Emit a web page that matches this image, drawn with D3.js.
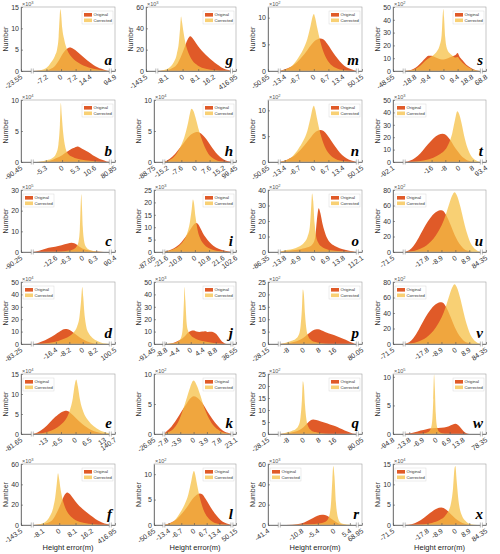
<!DOCTYPE html>
<html><head><meta charset="utf-8">
<script src="https://cdn.jsdelivr.net/npm/d3@7"></script>
<style>body{margin:0;background:#fff}</style>
</head><body>
<svg id="c" width="500" height="554"></svg>
<script>
// ---------------- DATA ----------------
const panelLetters = ["a","g","m","s","b","h","n","t","c","i","o","u","d","j","p","v","e","k","q","w","f","l","r","x"];
const yExponents = [3,3,2,2, 4,4,2,3, 5,3,2,2, 4,3,2,2, 4,2,2,5, 3,2,3,4];
const yTickValues = [
  [0,5,10,15],[0,20,40,60],[0,5,10],[0,10,20,30,40,50],
  [0,5,10],[0,5,10],[0,5,10],[0,10,20,30,40,50],
  [0,10,20,30],[0,5,10,15,20,25],[0,10,20,30,40],[0,20,40,60,80],
  [0,10,20,30,40,50],[0,10,20,30,40,50],[0,5,10,15,20,25],[0,20,40,60,80],
  [0,5,10,15],[0,5,10],[0,5,10,15,20,25],[0,5,10],
  [0,20,40,60],[0,5,10],[0,20,40,60],[0,5,10,15]
];
const yMaxValues = [15,60,12,50, 10,10,12,50, 30,25,40,80, 50,50,25,80, 15,10,25,10.5, 60,12,60,15];
const xEdgeLabels = [
  [-23.55,94.9],[-143.5,416.95],[-50.65,50.15],[-48.55,68.8],
  [-90.45,80.85],[-88.75,99.45],[-50.65,50.15],[-92.1,93.4],
  [-90.25,90.4],[-87.05,102.6],[-86.35,112.1],[-71.5,84.35],
  [-83.25,100.5],[-91.45,36.55],[-28.15,80.05],[-71.5,84.35],
  [-81.65,140.7],[-26.95,23.1],[-28.15,80.05],[-94.8,78.35],
  [-143.5,416.95],[-50.65,50.15],[-41.4,68.95],[-71.5,84.35]
];
const xTickValues = [
  [-7.2,0,7.2,14.4],[-8.1,0,8.1,16.2],[-13.4,-6.7,0,6.7,13.4],[-18.8,-9.4,0,9.4,18.8],
  [-5.3,0,5.3,10.6],[-15.2,-7.6,0,7.6,15.2],[-13.4,-6.7,0,6.7,13.4],[-16,-8,0,8],
  [-12.6,-6.3,0,6.3],[-21.6,-10.8,0,10.8,21.6],[-13.8,-6.9,0,6.9,13.8],[-17.8,-8.9,0,8.9],
  [-16.4,-8.2,0,8.2],[-8.8,-4.4,0,4.4,8.8],[-8,0,8,16],[-17.8,-8.9,0,8.9],
  [-13,-6.5,0,6.5,13],[-7.8,-3.9,0,3.9,7.8],[-8,0,8,16],[-13.8,-6.9,0,6.9,13.8],
  [-8.1,0,8.1,16.2],[-13.4,-6.7,0,6.7,13.4],[-10.8,-5.4,0,5.4],[-17.8,-8.9,0,8.9]
];
const xInnerDomains = [
  [-14.2,24.3],[-13.4,25.4],[-15.9,20],[-26,25.1],
  [-9.7,15.7],[-17,19.6],[-15.9,20],[-32,13],
  [-23.7,12.9],[-23.7,28.2],[-16.3,20.3],[-32.7,16.6],
  [-30.8,16.8],[-9.5,14.5],[-12.3,27.4],[-32.7,16.6],
  [-19.3,15.5],[-8.7,11.2],[-12.3,27.4],[-16.4,23.1],
  [-13.4,25.4],[-15.9,20],[-18.4,7.9],[-32.7,16.6]
];
const legendSides = ["R","R","R","R","R","R","R","L","L","R","R","L","L","R","R","L","L","R","R","R","R","R","L","L"];

const originalSeries = [
  // a
  [[-14,0],[-8,0.1],[-5,0.5],[-3,1.2],[-1,2.5],[0.5,3.8],[2,4.8],[3.5,5.4],[4.5,5.5],[6,5.2],[8,4.5],[10,3.7],[12,2.9],[14,2.1],[16,1.4],[18,0.9],[20,0.5],[22,0.2],[24,0]],
  // g
  [[-13,0],[-9,0.5],[-6,2],[-3,6],[-1,13],[1,22],[2.5,29],[4,32.5],[5.5,30],[7,26],[9,21],[11,17],[13,13.5],[15.5,9.5],[18,6],[20,3.6],[22.5,1.5],[25,0.3],[25.4,0]],
  // m
  [[-16,0],[-12,0.5],[-9,1.2],[-6,2.4],[-3,3.9],[-1,5],[1,5.8],[3,6.1],[4.5,5.9],[6,5.2],[8,4],[10,2.8],[12,1.8],[14,1],[16,0.5],[18.5,0.15],[20,0]],
  // s
  [[-26,0],[-23,0.3],[-20,1.5],[-17,4],[-14,7.5],[-12,10],[-10,12],[-8,12],[-5,10.5],[-2,9.2],[0,9],[2,9.5],[4,10.5],[6,11.5],[8,12.5],[9.4,14],[10.5,11.5],[12.5,8.5],[15,5],[18,2.5],[21,0.8],[23,0.2],[25,0]],
  // b
  [[-9.7,0],[-6,0.05],[-4,0.2],[-2,0.6],[0,1.1],[1.5,1.6],[3,2.1],[4,2.3],[5,2.5],[6,2.3],[7,2],[8.5,1.6],[10,1.1],[11.5,0.7],[13,0.35],[14.5,0.1],[15.7,0]],
  // h
  [[-17,0],[-14,0.5],[-11,1.3],[-8,2.4],[-5,3.6],[-2,4.5],[0,4.8],[1,4.85],[3,4.6],[5,4],[7,3.2],[9,2.3],[11,1.5],[13,0.9],[15,0.45],[17,0.15],[19.6,0]],
  // n
  [[-16,0],[-12,0.5],[-9,1.2],[-6,2.4],[-3,3.9],[-1,5],[1,5.9],[3,6.2],[4.5,6],[6,5.3],[8,4.1],[10,2.9],[12,1.8],[14,1],[16,0.5],[18.5,0.15],[20,0]],
  // t
  [[-32,0],[-30,0.5],[-27,2],[-24,5],[-21,9.5],[-18,14.5],[-15,19],[-12,22],[-9.5,22.8],[-7,21],[-5,17.5],[-3,13],[-1,9],[1,5.5],[3,3],[5,1.3],[8,0.3],[11,0]],
  // c
  [[-23.7,0],[-22,0.3],[-19,1.1],[-16,2],[-13,2.6],[-10,3.3],[-7,4.1],[-5.2,4.5],[-4,4.2],[-2.5,3.3],[-1,2.2],[0.5,1.4],[2.5,0.8],[5,0.4],[8,0.1],[11,0]],
  // i
  [[-23.7,0],[-20,0.6],[-16,1.5],[-12,3],[-9,4.8],[-6,7],[-3,9.5],[-1,11],[1,11.7],[2.5,11.2],[4,9.8],[6,7.7],[8,6],[11,4],[14,2.5],[18,1.3],[22,0.6],[26,0.2],[28.2,0]],
  // o
  [[-16.3,0],[-14,0.6],[-10,1.2],[-6,2],[-3,3],[-1,4.5],[0.5,9],[1.3,20],[2.2,28.3],[3,25],[4,18],[5.5,11],[7,7],[9,4.5],[12,2.5],[15,1.3],[18,0.5],[20.3,0]],
  // u
  [[-32.7,0],[-31,1],[-28,5],[-25,13],[-22,24],[-19,35],[-16,44],[-13,50.5],[-10.5,53.5],[-9,54],[-7.5,52.5],[-5.5,46],[-3.5,37],[-1.5,27],[0.5,18],[2.5,11],[5,5],[8,1.5],[11,0]],
  // d
  [[-30.8,0],[-28,0.5],[-25,2],[-21,4.5],[-17,7.5],[-14,10],[-11.5,11.8],[-10,12],[-8,11.2],[-6,9.5],[-4,7.5],[-2,5.5],[0,3.8],[2,2.5],[4.5,1.3],[7,0.5],[10,0]],
  // j
  [[-9.5,0],[-7,0.5],[-5.5,1.5],[-4,3],[-3,4.5],[-2,6.5],[-1,9],[0,10.5],[1,10.8],[2,10],[3,9.6],[4,10],[5,10.3],[6,9.7],[7,9.9],[8,9.5],[9,8],[10,5],[11,2],[12,0.5],[12.6,0]],
  // p
  [[-12.3,0],[-8,0.3],[-5,0.8],[-2,1.6],[0,2.5],[2,3.8],[4,5],[6,5.8],[7.5,5.9],[9,5.5],[11,4.8],[13,4.2],[15.5,3.6],[18,2.8],[20.5,2],[22.5,1.3],[24.5,0.6],[26,0.15],[27.4,0]],
  // v
  [[-32.7,0],[-31,1],[-28,5],[-25,13],[-22,24],[-19,35],[-16,44],[-13,50.5],[-10.5,53.5],[-9,54],[-7.5,52.5],[-5.5,46],[-3.5,37],[-1.5,27],[0.5,18],[2.5,11],[5,5],[8,1.5],[11,0]],
  // e
  [[-19.3,0],[-17,0.4],[-14,1.5],[-11.5,2.9],[-9,4.3],[-6.5,5.4],[-4,5.8],[-2.5,5.4],[-1,4.6],[1,3.5],[3,2.5],[5,1.7],[7,1],[9.5,0.5],[12,0.15],[14,0]],
  // k
  [[-8.7,0],[-7.8,0.5],[-6.5,1.2],[-5,2.4],[-3.5,3.8],[-2,5.1],[-1,5.9],[0,6.3],[1,6.1],[2.5,5.2],[4,3.8],[5.5,2.5],[7,1.4],[8.5,0.6],[10,0.2],[11.2,0]],
  // q
  [[-12.3,0],[-8,0.3],[-5,0.8],[-2,1.7],[0,2.8],[2,4.5],[3.5,5.6],[5,6],[6.5,5.8],[8.5,5.3],[11,4.7],[13.5,4],[16,3.3],[18.5,2.4],[21,1.5],[23,0.8],[25,0.25],[27,0]],
  // w
  [[-16.4,0],[-14,0.1],[-11,0.3],[-8,0.6],[-5,0.85],[-2,1],[1,1.05],[4,1.15],[6.5,1.35],[8.5,1.65],[9.8,1.78],[11,1.6],[12.5,1.1],[14,0.5],[15.5,0.15],[17,0]],
  // f
  [[-13,0],[-9,0.5],[-6,2],[-3,6],[-1,13],[1,22],[2.5,29],[4,32],[5.5,30],[7,26],[9,21],[11,17],[13,13.5],[15.5,9.5],[18,6],[20,3.6],[22.5,1.5],[25,0.3],[25.4,0]],
  // l
  [[-16,0],[-12,0.5],[-9,1.2],[-6,2.4],[-3,3.9],[-1,5],[1,5.8],[3,6.2],[4.5,6],[6,5.2],[8,4],[10,2.8],[12,1.8],[14,1],[16,0.5],[18.5,0.15],[20,0]],
  // r
  [[-18.4,0],[-14,0.3],[-11,1.5],[-9,4],[-7,7],[-5.5,9],[-4,10],[-3,9.8],[-2,8.5],[-1,6.5],[0,4.5],[1,2.5],[2,1],[3.5,0.3],[5,0]],
  // x
  [[-32,0],[-28,0.2],[-24,0.8],[-20,1.8],[-16,3],[-12,4],[-9,4.3],[-6,3.8],[-3,2.7],[0,1.6],[3,0.8],[6,0.3],[10,0]]
];

const correctedSeries = [
  // a
  [[-14,0],[-10,0.2],[-7,0.8],[-5,2],[-3,3.6],[-2,5],[-1.2,8],[-0.7,12.5],[-0.4,14.5],[0,13.5],[0.6,10],[1.5,7.5],[3,5],[5,3.4],[8,2.1],[12,1.1],[16,0.5],[20,0.15],[24,0]],
  // g
  [[-13,0],[-10,0.8],[-7,3],[-5,7],[-3,16],[-2,26],[-1.3,40],[-0.8,51],[-0.3,46],[0.5,36],[1.5,26],[3,17],[5,10],[8,5],[12,2.2],[17,0.8],[22,0.2],[25,0]],
  // m
  [[-16,0],[-13,0.3],[-10,1],[-7,2.6],[-5,4],[-3,6],[-1.5,8.5],[-0.5,10.3],[0,10.7],[0.6,10],[1.5,8.2],[3,5.5],[5,3],[7,1.6],[10,0.6],[14,0.15],[19,0]],
  // s
  [[-26,0],[-22,0.5],[-18,2],[-15,4.5],[-12,8],[-9,10.5],[-6,13],[-4,16],[-2.5,20],[-1.2,28],[-0.4,45],[0,48.5],[0.4,42],[1.2,26],[2.5,17],[4,14],[6,12],[8,10.5],[9.4,11],[11,8.5],[14,5],[17,2.5],[20,1],[23,0.2],[25,0]],
  // b
  [[-9.7,0],[-7,0.1],[-5,0.3],[-3,0.7],[-2,1.3],[-1.2,2.8],[-0.7,6],[-0.4,9.5],[-0.1,7.5],[0.4,4.5],[1,2.5],[2,1.3],[3.5,0.8],[6,0.4],[9,0.2],[12,0.05],[15,0]],
  // h
  [[-17,0],[-14,0.3],[-11,1],[-8,2.5],[-6,4],[-4,6.3],[-3,7.8],[-2.2,8.6],[-1,8.2],[0,7.2],[1.5,5.5],[3,4],[5,2.4],[7,1.3],[10,0.5],[14,0.1],[19,0]],
  // n
  [[-16,0],[-13,0.3],[-10,1],[-7,2.6],[-5,4],[-3,6],[-1.5,8.6],[-0.5,10.5],[0,10.9],[0.6,10.2],[1.5,8.3],[3,5.5],[5,3],[7,1.6],[10,0.6],[14,0.15],[19,0]],
  // t
  [[-32,0],[-25,0.5],[-20,1.5],[-15,3.5],[-11,6.5],[-8,10],[-6,15],[-4,23],[-2.5,33],[-1,41],[0,39],[1.5,31],[3,21],[5,11],[7,5],[9,2],[11,0.6],[13,0]],
  // c
  [[-23.7,0],[-15,0.1],[-10,0.3],[-6,0.8],[-4,1.6],[-3,2.6],[-2,5],[-1.4,11],[-0.9,25],[-0.7,28],[-0.4,22],[0,12],[0.6,5.5],[1.5,2.5],[3,1.1],[5,0.5],[8,0.15],[12,0]],
  // i
  [[-23.7,0],[-20,0.5],[-16,1.2],[-12,2.5],[-9,4.3],[-6,7.5],[-4,11.5],[-2.5,17],[-1.5,21.2],[-0.8,20],[0.5,14],[2,9],[4,5.5],[7,3],[10,1.7],[14,0.8],[19,0.3],[24,0.1],[28,0]],
  // o
  [[-16.3,0],[-14,1],[-10,2],[-7,3.5],[-5,5.5],[-3,10],[-2,16],[-1.3,30],[-0.9,37.8],[-0.4,33],[0.3,18],[1,10],[2,6],[3.5,3.5],[6,1.8],[10,0.8],[15,0.3],[20,0]],
  // u
  [[-32.7,0],[-28,1],[-24,3],[-20,6.5],[-17,11],[-14,17],[-11,26],[-8,38],[-5.5,52],[-3.5,65],[-1.5,75],[-0.5,77],[1,73],[3,60],[5,43],[7,27],[9,15],[11.5,6],[14,1.5],[16.6,0]],
  // d
  [[-30.8,0],[-25,0.3],[-20,1],[-15,2.5],[-11,4.5],[-8,6.5],[-5.5,9.5],[-3.5,14],[-2,22],[-1,35],[-0.3,46],[0.3,38],[1,25],[2,15],[3.5,9],[5.5,5.5],[8,3],[11,1.3],[14,0.4],[16.8,0]],
  // j
  [[-9.5,0],[-6.5,0.6],[-5,1.5],[-4,3],[-3.3,6],[-2.8,14],[-2.4,35],[-2.2,46],[-1.9,35],[-1.5,18],[-1,11],[0,7],[1.5,4.5],[3,3],[5,2],[7,1.2],[9,0.6],[11,0.2],[12.6,0]],
  // p
  [[-12.3,0],[-10,0.3],[-8,0.8],[-6,1.3],[-4,2],[-2.5,3.5],[-1.5,7],[-0.8,14],[-0.3,22],[0.2,20],[0.8,12],[1.5,6],[2.5,3],[4,1.5],[6,0.8],[9,0.3],[13,0]],
  // v
  [[-32.7,0],[-28,1],[-24,3],[-20,6.5],[-17,11],[-14,17],[-11,26],[-8,38],[-5.5,52],[-3.5,65],[-1.5,75],[-0.5,77],[1,73],[3,60],[5,43],[7,27],[9,15],[11.5,6],[14,1.5],[16.6,0]],
  // e
  [[-19.3,0],[-15,0.2],[-11,0.8],[-8,1.7],[-6,2.6],[-4,4],[-2.5,6],[-1.2,9],[-0.3,12.5],[0.3,13.6],[1,12],[2,8.5],[3.5,5.5],[5.5,3.5],[8,2],[11,0.9],[14,0.3],[15.5,0]],
  // k
  [[-8.7,0],[-7.5,0.3],[-6,0.8],[-4.5,2],[-3,4.2],[-2,6],[-1,7.8],[0,8.9],[1,8],[2,6.4],[3,4.6],[4.5,2.6],[6,1.3],[7.5,0.6],[9,0.2],[11,0]],
  // q
  [[-12.3,0],[-10,0.3],[-8,0.8],[-6,1.3],[-4,2],[-2.5,3.5],[-1.5,7],[-0.8,14],[-0.3,22],[0.2,20],[0.8,12],[1.5,6],[2.5,3],[4,1.5],[6,0.8],[9,0.3],[13,0]],
  // w
  [[-16.4,0],[-10,0.05],[-6,0.15],[-4,0.35],[-2.8,0.9],[-2,2.5],[-1.5,6],[-1.1,10.4],[-0.7,8],[-0.2,3.5],[0.5,1.2],[1.5,0.4],[3,0.15],[6,0.05],[10,0]],
  // f
  [[-13,0],[-10,0.8],[-7,3],[-5,7.5],[-3,17],[-2,27],[-1.2,41],[-0.6,51],[-0.1,46],[0.7,35],[1.7,25],[3,17],[5,10],[8,5],[12,2.2],[17,0.8],[22,0.2],[25,0]],
  // l
  [[-16,0],[-13,0.3],[-10,1],[-7,2.6],[-5,4],[-3,6],[-1.5,8.5],[-0.5,10.3],[0,10.6],[0.6,10],[1.5,8.2],[3,5.5],[5,3],[7,1.6],[10,0.6],[14,0.15],[19,0]],
  // r
  [[-18.4,0],[-12,0.3],[-8,0.8],[-5,1.5],[-3,3],[-1.8,7],[-1,20],[-0.5,45],[-0.2,58],[0.2,48],[0.7,22],[1.3,8],[2,3],[3,1.2],[4.5,0.4],[6.5,0]],
  // x
  [[-32,0],[-20,0.2],[-15,0.5],[-10,1.2],[-6,2.5],[-3,5],[-1.5,9],[-0.5,14],[0,14.5],[0.8,11],[2,6],[4,2.5],[7,0.8],[10,0.2],[14,0]]
];

// ---------------- DRAWING ----------------
const svg = d3.select("#c");
const rowTops = [7,100,190,282,374,464];
const rowBottoms = [71,162,252,344,434,525];
const colLefts = [21,154,268,393];
const colRights = [115,236,362,486];
const innerFrac = [0.12, 0.95];
const origColor = "#E05A28", corrColor = "#F5C045", corrOpacity = 0.75;
const FONT = "'Liberation Sans', Arial, sans-serif";

panelLetters.forEach((letter, i) => {
  const r = Math.floor(i / 4), c = i % 4;
  const L = (i === 1) ? 146 : colLefts[c];
  const R = colRights[c], T = rowTops[r], B = rowBottoms[r];
  const w = R - L, h = B - T;
  const [xmin, xmax] = xEdgeLabels[i];
  const [lo, hi] = xInnerDomains[i];
  const x = d3.scaleLinear().domain([xmin, lo, hi, xmax]).range([0, innerFrac[0] * w, innerFrac[1] * w, w]);
  const y = d3.scaleLinear().domain([0, yMaxValues[i]]).range([h, 0]);
  const g = svg.append("g").attr("transform", `translate(${L},${T})`);

  const clipId = "clip" + i;
  g.append("clipPath").attr("id", clipId).append("rect").attr("width", w).attr("height", h);
  const area = d3.area().x(d => x(d[0])).y0(h).y1(d => y(d[1])).curve(d3.curveMonotoneX);
  const plot = g.append("g").attr("clip-path", `url(#${clipId})`);
  plot.append("path").attr("d", area(originalSeries[i])).attr("fill", origColor);
  plot.append("path").attr("d", area(correctedSeries[i])).attr("fill", corrColor).attr("fill-opacity", corrOpacity);

  // box
  g.append("rect").attr("width", w).attr("height", h).attr("fill", "none")
    .attr("stroke", "#a0a0a0").attr("stroke-width", 0.6);

  // y axis
  const ya = g.append("g").call(d3.axisLeft(y).tickValues(yTickValues[i])
    .tickSizeInner(-2).tickSizeOuter(0).tickPadding(2));
  ya.select(".domain").attr("stroke", "#555").attr("stroke-width", 0.7);
  ya.selectAll(".tick line").attr("stroke", "#555").attr("stroke-width", 0.6);
  ya.selectAll("text").attr("font-family", FONT).attr("font-size", 7).attr("fill", "#333");

  // exponent
  const ex = g.append("text").attr("x", 1).attr("y", -1.5).attr("font-family", FONT)
    .attr("font-size", 5.5).attr("fill", "#555").text("×10");
  ex.append("tspan").attr("dy", -2).attr("font-size", 4).text(yExponents[i]);

  // x axis with breaks
  const allTicks = [xmin, ...xTickValues[i], xmax];
  const xa = g.append("g").attr("transform", `translate(0,${h})`)
    .call(d3.axisBottom(x).tickValues(allTicks).tickFormat(d => String(d))
      .tickSizeInner(-2).tickSizeOuter(0).tickPadding(2));
  xa.select(".domain").attr("stroke", "#555").attr("stroke-width", 0.7);
  xa.selectAll(".tick line").attr("stroke", "#555").attr("stroke-width", 0.6);
  xa.selectAll("text").attr("font-family", FONT).attr("font-size", 7).attr("fill", "#333")
    .attr("text-anchor", "end").attr("y", 0).attr("dy", 0)
    .attr("transform", "translate(1.5,7) rotate(-35)");
  [lo, hi].forEach(v => {
    const bx = x(v);
    xa.append("rect").attr("x", bx - 1).attr("y", -2.5).attr("width", 2).attr("height", 5).attr("fill", "#fff");
    xa.append("line").attr("x1", bx - 1).attr("x2", bx - 1).attr("y1", -2.5).attr("y2", 2.5).attr("stroke", "#777").attr("stroke-width", 0.5);
    xa.append("line").attr("x1", bx + 1).attr("x2", bx + 1).attr("y1", -2.5).attr("y2", 2.5).attr("stroke", "#777").attr("stroke-width", 0.5);
  });

  // y label
  g.append("text").attr("transform", `translate(${-13},${h / 2}) rotate(-90)`)
    .attr("text-anchor", "middle").attr("font-family", FONT).attr("font-size", 7)
    .attr("fill", "#333").text("Number");

  // legend
  const lw = 31, lh = 13;
  const lx = legendSides[i] === "R" ? w - lw - 2 : 2;
  const lg = g.append("g").attr("transform", `translate(${lx},4)`);
  lg.append("rect").attr("width", lw).attr("height", lh).attr("fill", "#fff").attr("stroke", "#d0d0d0").attr("stroke-width", 0.4);
  const items = [["Original", origColor, 1], ["Corrected", corrColor, corrOpacity]];
  items.forEach((it, k) => {
    lg.append("rect").attr("x", 2).attr("y", 2 + k * 5.5).attr("width", 8).attr("height", 3.6)
      .attr("fill", it[1]).attr("fill-opacity", it[2]);
    lg.append("text").attr("x", 11.5).attr("y", 5.3 + k * 5.5).attr("font-family", FONT)
      .attr("font-size", 4.2).attr("fill", "#333").text(it[0]);
  });

  // panel letter
  g.append("text").attr("x", w - 3).attr("y", h - 6).attr("text-anchor", "end")
    .attr("font-family", "'Liberation Serif', 'DejaVu Serif', serif").attr("font-style", "italic")
    .attr("font-weight", "bold").attr("font-size", 15).attr("fill", "#000").text(letter);
});

// bottom x labels
[0, 1, 2, 3].forEach(c => {
  svg.append("text").attr("x", (colLefts[c] + colRights[c]) / 2).attr("y", 550)
    .attr("text-anchor", "middle").attr("font-family", FONT).attr("font-size", 7.5)
    .attr("fill", "#222").text("Height error(m)");
});
</script>
</body></html>
